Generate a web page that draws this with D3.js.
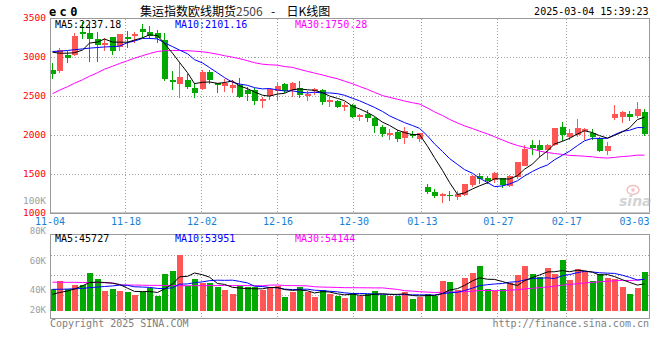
<!DOCTYPE html>
<html><head><meta charset="utf-8">
<script src="https://cdn.jsdelivr.net/npm/d3@7"></script>
<style>
html,body{margin:0;padding:0;background:#fff;}
svg{display:block;}
text{font-family:"DejaVu Sans Mono",monospace;}
</style></head><body>
<svg id="c" width="660" height="360"></svg>
<script>
// ---------- data ----------
const dates = ["11-04","11-05","11-06","11-07","11-08","11-11","11-12","11-13","11-14","11-15","11-18","11-19","11-20","11-21","11-22","11-25","11-26","11-27","11-28","11-29","12-02","12-03","12-04","12-05","12-06","12-09","12-10","12-11","12-12","12-13","12-16","12-17","12-18","12-19","12-20","12-23","12-24","12-25","12-26","12-27","12-30","12-31","01-02","01-03","01-06","01-07","01-08","01-09","01-10","01-13","01-14","01-15","01-16","01-17","01-20","01-21","01-22","01-23","01-24","01-27","02-05","02-06","02-07","02-10","02-11","02-12","02-13","02-14","02-17","02-18","02-19","02-20","02-21","02-24","02-25","02-26","02-27","02-28","03-03","03-04"];
const open = [2837,2828,3033,3033,3333,3311,3238,3161,3269,3128, 3260,3277,3367,3333,3311,3225,2709,2649,2709,2606, 2597,2811,2674,2636,2615,2645,2581,2581,2440,2504, 2572,2658,2581,2603,2508,2559,2581,2427,2444,2363, 2388,2238,2273,2218,2103,2004,2046,1961,2017,1952, 1341,1277,1213,1235,1213,1235,1363,1482,1456,1418, 1449,1354,1456,1619,1876,1876,1812,1885,2103,1969, 2004,2055,2038,1974,1803,2226,2238,2282,2251,2295];
const high = [2930,3120,3077,3311,3452,3427,3324,3256,3269,3299, 3341,3333,3427,3410,3354,3311,2828,2944,2786,2667, 2837,2846,2679,2718,2709,2731,2623,2603,2495,2615, 2667,2667,2687,2696,2572,2615,2590,2495,2461,2431, 2401,2282,2333,2231,2132,2077,2068,2110,2055,2033, 1372,1308,1269,1286,1286,1376,1491,1513,1478,1533, 1456,1491,1662,1876,1940,1940,1897,2097,2174,2081, 2209,2097,2077,1982,1918,2388,2311,2311,2431,2337];
const low = [2738,2820,2936,3033,3256,2956,2956,3097,3046,3097, 3141,3205,3269,3247,3205,2713,2600,2495,2603,2495, 2590,2679,2559,2572,2559,2495,2461,2410,2367,2474, 2453,2559,2504,2495,2461,2538,2410,2376,2359,2324, 2231,2205,2187,2046,1991,1961,1931,1905,1982,1931, 1264,1213,1149,1171,1192,1235,1354,1385,1385,1405, 1341,1354,1449,1619,1769,1738,1705,1876,1940,1949, 1995,1961,1961,1799,1769,2209,2174,2196,2238,2004];
const close = [2790,3093,3000,3282,3311,3238,3161,3192,3090,3299, 3238,3302,3333,3282,3247,2726,2687,2744,2623,2546, 2811,2709,2654,2674,2649,2495,2529,2444,2465,2590, 2632,2572,2674,2517,2538,2590,2431,2453,2367,2388, 2238,2260,2218,2119,2017,2033,1961,2055,1991,2026, 1277,1226,1244,1218,1256,1376,1482,1440,1418,1513, 1363,1478,1654,1833,1841,1812,1876,2097,2004,2026, 2097,2077,1982,1812,1863,2273,2303,2238,2346,2013];
const volume = [37100,52150,37625,44625,44625,66150,55125,34650,37625,34650, 32900,27125,32900,38850,25900,63875,69125,97125,42875,55125, 48650,47600,41650,35875,28875,42875,41650,40600,35875,39900, 42875,24150,32900,40600,31850,24150,35875,28875,25375,22400, 31150,25375,28875,34650,26600,25375,25900,32900,20125,23100, 28875,25375,51625,49875,35875,56350,66150,77875,37100,34650, 37625,47600,62125,77875,63875,59150,74375,63875,88375,53375, 72625,69125,51625,63875,56875,55125,41650,28875,39900,67900];
// moving-average values before a full window is available
const ma5Head  = [3068,3055,3055,3061];
const ma10Head = [3077,3081,3090,3100,3110,3120,3128,3135,3140];
const ma30Head = [2536,2581,2626,2670,2715,2760,2805,2850,2888,2923,2959,2991,3023,3051,3077,3087,3090,3090,3087,3081,3074,3061,3042,3023,3004,2985,2959,2933,2914];
const vma5Head  = [28350,31500,34125,37600];
const vma10Head = [37100,37100,37500,38000,38500,40000,41000,42000,43000];
const vma30Head = [49500,49500,49300,49300,49000,48800,48800,48600,48400,44800,44500,44500,44300,44000,44000,43800,43500,43500,43300,43500,43500,43600,43600,43800,43600,43600,43500,43400,43300];

const priceTicks = [3500,3000,2500,2000,1500,1000];
const xTickLabels = ["11-04","11-18","12-02","12-16","12-30","01-13","01-27","02-17","03-03"];
const volTickLabels = ["80K","60K","40K","20K"];
const volOverlayLabel = "100K";
const symbol = "ec0";
const titleName = "集运指数欧线期货";
const contract = "2506";
const titleKind = "日K线图";
const timestamp = "2025-03-04 15:39:23";
const priceMaLabels = ["MA5:2237.18","MA10:2101.16","MA30:1750.28"];
const volMaLabels = ["MA5:45727","MA10:53951","MA30:54144"];
const maColors = ["#000000","#0000ff","#ff00ff"];
const copyright = "Copyright 2025 SINA.COM";
const url = "http://finance.sina.com.cn";

// ---------- helpers ----------
function movingAvg(arr, n, head){
  return arr.map((v,i)=> i < n-1 ? head[i] : d3.mean(arr.slice(i-n+1, i+1)));
}
const n = dates.length;
const idx = d3.range(n);
const RED = "#ff5555", GREEN = "#00a800", GRID = "#a0a0a0", BORDER = "#999999";

const svg = d3.select("#c");
svg.append("rect").attr("width",660).attr("height",360).attr("fill","#fff");

const xB = d3.scaleBand().domain(idx).range([49.2, 649.2]).paddingInner(0.2).paddingOuter(0.1);
const bl = i => Math.round(xB(i));
const cx = i => bl(i) + 2.5;
const gridX = d3.scaleLinear().domain([0, n-1]).range([49.5, 49.5 + 7.6*(n-1)]);
const gx = i => Math.round(gridX(i) - 0.5) + 0.5;

const y = d3.scaleLinear().domain([1000, 3500]).range([213.5, 18.5]);
const yV = d3.scaleLinear().domain([0, 100000]).range([310.5, 310.5 - 100000/1750]);
const volGrid = d3.scaleLinear().domain([0, 4]).range([235.5, 315.5]);
const volLabelY = d3.scaleLinear().domain([0,1,2,3]).range([233.5, 264, 292.7, 312.7]);

const L = 50.5, R = 649.5;
const mainTop = y(3500), mainBot = y(1000);
const volTop = 234.5, volBot = 318.5;

const g = svg.append("g").attr("shape-rendering","crispEdges");

// ---------- grids ----------
const gridIdx = xTickLabels.map(d => dates.indexOf(d)).filter(i => i > 0 && i < n-2);
[[mainTop, mainBot],[volTop, volBot]].forEach(([t,b])=>{
  g.selectAll(null).data(gridIdx).join("line")
    .attr("x1", gx).attr("x2", gx).attr("y1", t).attr("y2", b)
    .attr("stroke", GRID).attr("stroke-dasharray","1,2");
});
g.selectAll(null).data(priceTicks.filter(v => v > 1000 && v < 3500)).join("line")
  .attr("x1", L).attr("x2", R).attr("y1", d=>y(d)).attr("y2", d=>y(d))
  .attr("stroke", GRID).attr("stroke-dasharray","1,2");
g.selectAll(null).data([1,2,3]).join("line")
  .attr("x1", L).attr("x2", R).attr("y1", d=>volGrid(d)).attr("y2", d=>volGrid(d))
  .attr("stroke", GRID).attr("stroke-dasharray","1,2");

// ---------- candles ----------
const isUp = i => close[i] >= open[i];
const cg = g.append("g");
cg.selectAll("line.w").data(idx).join("line").attr("class","w")
  .attr("x1", cx).attr("x2", cx)
  .attr("y1", i => Math.round(y(high[i]))).attr("y2", i => Math.round(y(low[i]))+1)
  .attr("stroke", i => isUp(i) ? RED : GREEN);
cg.selectAll("rect.b").data(idx).join("rect").attr("class","b")
  .attr("x", bl).attr("width", xB.bandwidth())
  .attr("y", i => Math.round(y(Math.max(open[i], close[i]))))
  .attr("height", i => Math.max(1, Math.round(Math.abs(y(open[i]) - y(close[i])))))
  .attr("fill", i => isUp(i) ? RED : GREEN);

// ---------- volume bars ----------
g.append("g").selectAll("rect").data(idx).join("rect")
  .attr("x", bl).attr("width", xB.bandwidth())
  .attr("y", i => Math.round(yV(volume[i])))
  .attr("height", i => Math.round(yV(0)) - Math.round(yV(volume[i])))
  .attr("fill", i => isUp(i) ? RED : GREEN);

// ---------- MA lines ----------
const pMA = [movingAvg(close,5,ma5Head), movingAvg(close,10,ma10Head), movingAvg(close,30,ma30Head)];
const vMA = [movingAvg(volume,5,vma5Head), movingAvg(volume,10,vma10Head), movingAvg(volume,30,vma30Head)];
const lineP = d3.line().x((d,i)=>cx(i)).y(d=>y(d));
const lineV = d3.line().x((d,i)=>cx(i)).y(d=>yV(d));
const lg = svg.append("g").attr("fill","none").attr("stroke-width",1);
[2,1,0].forEach(k=>{
  lg.append("path").attr("d", lineP(pMA[k])).attr("stroke", maColors[k]);
  lg.append("path").attr("d", lineV(vMA[k])).attr("stroke", maColors[k]);
});

// ---------- borders ----------
g.append("rect").attr("x", L).attr("y", mainTop).attr("width", R-L).attr("height", mainBot-mainTop)
  .attr("fill","none").attr("stroke", BORDER);
g.append("line").attr("x1", L).attr("x2", R).attr("y1", mainBot-1).attr("y2", mainBot-1).attr("stroke","#c8c8c8");
g.append("rect").attr("x", L).attr("y", volTop).attr("width", R-L).attr("height", volBot-volTop)
  .attr("fill","none").attr("stroke", BORDER);

// ---------- axes ----------
const ay = svg.append("g").attr("transform","translate(50,0)")
  .call(d3.axisLeft(y).tickValues(priceTicks).tickFormat(d3.format("d")).tickSize(0).tickPadding(4));
ay.select(".domain").remove();
ay.selectAll("text").attr("dy","1.5").attr("fill","#ff0000")
  .style("font-family","DejaVu Sans Mono").style("font-size","9.5px");

const ax = svg.append("g").attr("transform",`translate(0,${mainBot})`)
  .call(d3.axisBottom(gridX).tickValues(xTickLabels.map(d=>dates.indexOf(d))).tickFormat(i=>dates[i]).tickSize(0).tickPadding(4.4));
ax.select(".domain").remove();
ax.selectAll("text").attr("fill","#1a7fd4").style("font-family","DejaVu Sans Mono").style("font-size","10px");
ax.selectAll(".tick").each(function(i){
  const t = d3.select(this).select("text");
  const w = t.node().getComputedTextLength();
  const px = gridX(i);
  if (px + w/2 > R) t.attr("text-anchor","end").attr("x", R - px - 0.5);
});

svg.append("text").attr("x",46).attr("y",204).attr("text-anchor","end")
  .attr("fill","#a0a0a0").style("font-size","9.5px").text(volOverlayLabel);
svg.selectAll("text.vl").data(volTickLabels).join("text").attr("class","vl")
  .attr("x",46).attr("y",(d,i)=>volLabelY(i)).attr("text-anchor","end")
  .attr("fill","#a0a0a0").style("font-size","9px").text(d=>d);

// ---------- header ----------
svg.append("text").attr("x",49).attr("y",15.5).style("font-size","12px").style("font-weight","bold")
  .style("letter-spacing","3.4px").text(symbol);
const tt = svg.append("text").attr("y",15.5).style("font-family","'Noto Sans CJK SC'").style("font-size","12px");
tt.append("tspan").attr("x",140).text(titleName);
tt.append("tspan").attr("fill","#444").text(contract);
tt.append("tspan").attr("x",271).text("-");
tt.append("tspan").attr("x",286.5).text(titleKind);
svg.append("text").attr("x",648.5).attr("y",15).attr("text-anchor","end").style("font-size","10px").text(timestamp);

const maX = [55, 175, 295];
svg.selectAll("text.pm").data(priceMaLabels).join("text").attr("class","pm")
  .attr("x",(d,i)=>maX[i]).attr("y",27.5).attr("fill",(d,i)=>maColors[i]).style("font-size","10px").text(d=>d);
svg.selectAll("text.vm").data(volMaLabels).join("text").attr("class","vm")
  .attr("x",(d,i)=>maX[i]).attr("y",242).attr("fill",(d,i)=>maColors[i]).style("font-size","10px").text(d=>d);

// ---------- footer ----------
svg.append("text").attr("x",50).attr("y",327).attr("fill","#808080").style("font-size","10px").text(copyright);
svg.append("text").attr("x",649).attr("y",327).attr("text-anchor","end").attr("fill","#808080").style("font-size","10px").text(url);

// ---------- watermark ----------
const wm = svg.append("g").attr("opacity",0.55);
wm.append("ellipse").attr("cx",633).attr("cy",190).attr("rx",6).attr("ry",4.5).attr("fill","none").attr("stroke","#e89090").attr("stroke-width",1.5);
wm.append("circle").attr("cx",633).attr("cy",190).attr("r",1.8).attr("fill","#e89090");
wm.append("text").attr("x",619).attr("y",206).attr("fill","#b0b0b0")
  .style("font-family","DejaVu Sans").style("font-size","14px").style("font-weight","bold").style("font-style","italic").text("sina");
</script>
</body></html>
